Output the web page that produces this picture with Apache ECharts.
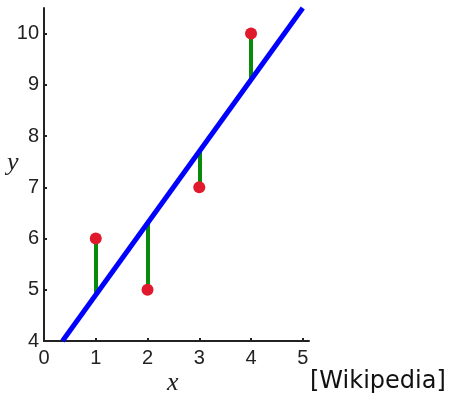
<!DOCTYPE html>
<html>
<head>
<meta charset="utf-8">
<script src="https://cdn.jsdelivr.net/npm/echarts@6/dist/echarts.min.js"></script>
<style>
  html, body { margin: 0; padding: 0; background: #fff; }
  #chart { width: 451px; height: 397px; }
</style>
</head>
<body>
<div id="chart"></div>
<script>
// observed points
var pointX = [1, 2, 3, 4];
var pointY = [6, 5, 7, 10];
// fitted line value at each point
var fitY = [4.9, 6.3, 7.7, 9.1];
// ends of the fitted line
var lineX = [0.357, 5];
var lineY = [4, 10.5];
// tick labels
var xTicks = [0, 1, 2, 3, 4, 5];
var yTicks = [4, 5, 6, 7, 8, 9, 10];

var myChart = echarts.init(document.getElementById('chart'));

var points = pointX.map(function (x, i) { return [x, pointY[i]]; });
var residuals = pointX.map(function (x, i) {
    return { coords: [[x, pointY[i]], [x, fitY[i]]] };
});
var fitLine = lineX.map(function (x, i) { return [x, lineY[i]]; });

var axisCommon = {
    type: 'value',
    splitLine: { show: false },
    axisLine: { show: true, onZero: false, lineStyle: { color: '#222', width: 2 } },
    axisTick: { show: true, inside: true, length: 3, lineStyle: { color: '#222', width: 2 } },
    axisLabel: { color: '#222', fontSize: 20, fontFamily: 'Liberation Sans' }
};

var option = {
    animation: false,
    grid: { left: 44, top: 8, width: 265, height: 333, containLabel: false },
    xAxis: echarts.util.merge({
        min: 0, max: 5.12,
        axisTick: { customValues: xTicks },
        axisLabel: { customValues: xTicks, margin: 7 }
    }, axisCommon),
    yAxis: echarts.util.merge({
        min: 4, max: 10.5,
        axisTick: { customValues: yTicks },
        axisLabel: { customValues: yTicks, margin: 5 }
    }, axisCommon),
    graphic: [
        { type: 'text', left: 7, top: 150, style: { text: 'y', font: 'italic 26px "Liberation Serif"', fill: '#222' } },
        { type: 'text', left: 167, top: 370, style: { text: 'x', font: 'italic 26px "Liberation Serif"', fill: '#222' } },
        { type: 'text', left: 310, top: 370, style: { text: '[Wikipedia]', font: '24px "DejaVu Sans"', fill: '#111' } }
    ],
    series: [
        {
            type: 'lines',
            coordinateSystem: 'cartesian2d',
            data: residuals,
            lineStyle: { color: '#0a8a0a', width: 4, opacity: 1 },
            z: 2
        },
        {
            type: 'line',
            data: fitLine,
            showSymbol: false,
            lineStyle: { color: '#0000ff', width: 5 },
            z: 3
        },
        {
            type: 'scatter',
            data: points,
            symbolSize: 12,
            itemStyle: { color: '#e0192d', opacity: 1 },
            z: 4
        }
    ]
};
myChart.setOption(option);
</script>
</body>
</html>
